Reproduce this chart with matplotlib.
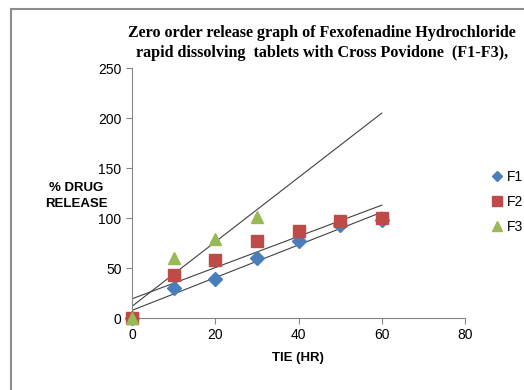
import matplotlib.pyplot as plt
import numpy as np
from matplotlib.patches import Rectangle

# data
time_hr = [0, 10, 20, 30, 40, 50, 60]
f1 = [0, 30, 39, 60, 77, 93, 98]
f2 = [0, 43, 58, 77, 87, 97, 100]
time_f3 = [0, 10, 20, 30]
f3 = [0, 60, 79, 101]

plt.rcParams['font.family'] = ['Liberation Sans', 'DejaVu Sans']

fig = plt.figure(figsize=(5.24, 3.9), dpi=100)
ax = fig.add_axes([132/524, 72/390, 333/524, 250/390])

# chart area border (only top and left visible in original)
fig.patches.append(Rectangle((11/524, -0.1), 1.2, 1 - 9/390 + 0.1, transform=fig.transFigure,
                             fill=False, edgecolor='#8c8c8c', linewidth=1.5))

series = [
    ('F1', time_hr, f1, 'D', '#4a7ebb', 7),
    ('F2', time_hr, f2, 's', '#be4b48', 8.5),
    ('F3', time_f3, f3, '^', '#98b954', 8.5),
]
for name, x, y, m, c, ms in series:
    ax.plot(x, y, linestyle='none', marker=m, color=c, markersize=ms,
            markeredgecolor=c, label=name, zorder=3, clip_on=False)

# linear trend lines
for name, x, y, m, c, ms in series:
    k, b = np.polyfit(x, y, 1)
    xs = np.array([0, 60])
    ax.plot(xs, k*xs + b, color='#404040', linewidth=0.8, zorder=2)

ax.set_xlim(0, 80)
ax.set_ylim(0, 250)
ax.set_xticks([0, 20, 40, 60, 80])
ax.set_yticks([0, 50, 100, 150, 200, 250])
for s in ['top', 'right']:
    ax.spines[s].set_visible(False)
for s in ['left', 'bottom']:
    ax.spines[s].set_color('#868686')
    ax.spines[s].set_linewidth(0.8)
ax.tick_params(axis='both', colors='#868686', labelcolor='black', labelsize=10, length=4, width=0.8)

fig.text(322/524, 1 - 43/390, 'Zero order release graph of Fexofenadine Hydrochloride\nrapid dissolving  tablets with Cross Povidone  (F1-F3),',
         ha='center', va='center', fontsize=11.6, fontweight='bold', family='Liberation Serif', linespacing=1.3)
fig.text(76/524, 1 - 196/390, '% DRUG\nRELEASE', ha='center', va='center', fontsize=9.5, fontweight='bold', linespacing=1.5)
fig.text(298/524, 1 - 358/390, 'TIE (HR)', ha='center', va='center', fontsize=9.5, fontweight='bold')

ax.legend(loc='center left', bbox_to_anchor=(492/524, 1 - 202/390), bbox_transform=fig.transFigure,
          frameon=False, fontsize=10, handlelength=0.7, handletextpad=0.4, labelspacing=0.8,
          borderaxespad=0, borderpad=0, markerscale=0.8)

fig.savefig('out.png', dpi=100)
